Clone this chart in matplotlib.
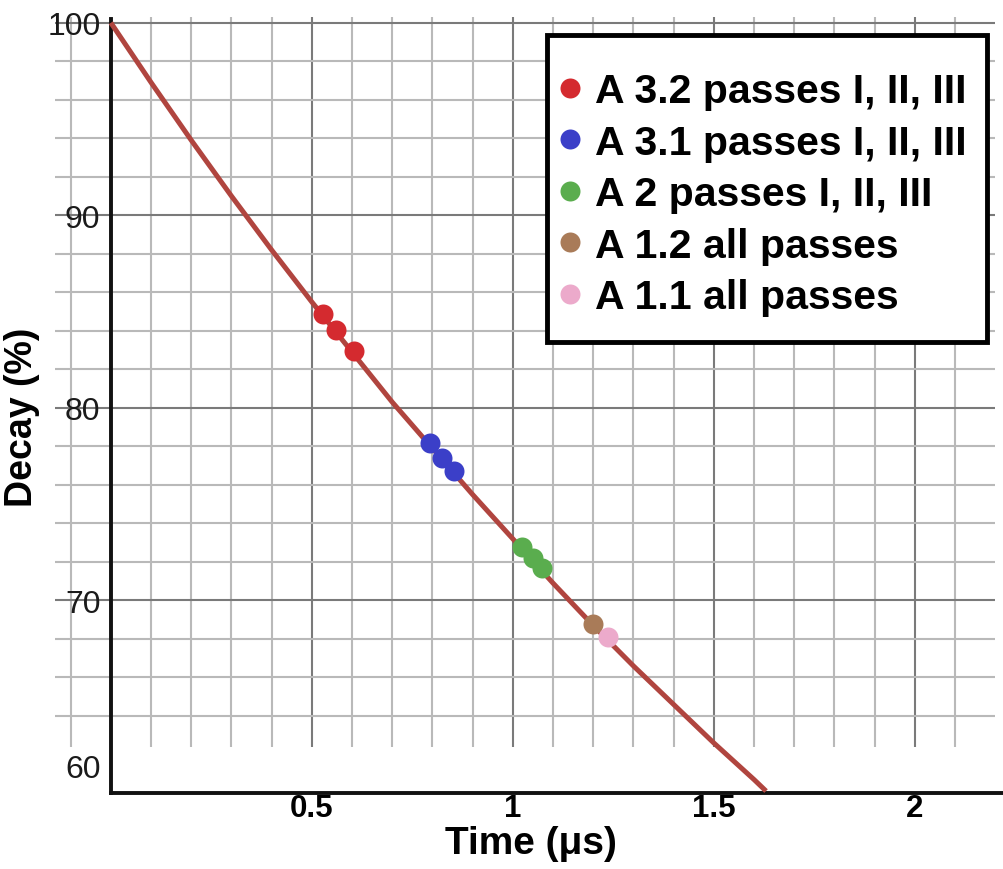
import matplotlib.pyplot as plt
import numpy as np
from matplotlib.patches import Rectangle
from matplotlib.transforms import ScaledTranslation

plt.rcParams["font.family"] = ["Liberation Sans", "DejaVu Sans"]

# decay curve
curve_t = [0.0, 0.1, 0.2, 0.3, 0.4, 0.5, 0.6, 0.7, 0.8, 0.9, 1.0,
           1.1, 1.2, 1.3, 1.4, 1.5, 1.6, 1.63]
curve_decay = [100.0, 96.9, 93.9, 91.0, 88.2, 85.5, 82.9, 80.3, 77.9, 75.5, 73.2,
               70.9, 68.7, 66.6, 64.6, 62.6, 60.7, 60.1]

# measured samples
labels = ["A 3.2 passes I, II, III", "A 3.1 passes I, II, III", "A 2 passes I, II, III",
          "A 1.2 all passes", "A 1.1 all passes"]
sample_t = [[0.527, 0.560, 0.604], [0.794, 0.824, 0.853], [1.023, 1.050, 1.073],
            [1.200], [1.237]]
sample_decay = [[84.88, 84.02, 82.98], [78.18, 77.40, 76.74], [72.76, 72.19, 71.67],
                [68.78], [68.09]]
colors = ["#d42a2f", "#3b3fc8", "#5aad4e", "#a97b58", "#ecaacb"]

xticks = [0.5, 1, 1.5, 2]
xticklabels = ["0.5", "1", "1.5", "2"]
yticks = [60, 70, 80, 90, 100]

fig = plt.figure(figsize=(10.04, 8.7), dpi=100)
ax = fig.add_axes([55 / 1004, 76 / 870, 949 / 1004, 776 / 870])
ax.set_xlim(-0.139, 2.222)
ax.set_ylim(60, 100.3)

# grid: light every 0.1 / 2 %, darker every 0.5 / 10 %
gx = np.round(np.arange(-0.1, 2.15, 0.1), 2)
gx = gx[gx != 0]
gy = np.arange(64, 101, 2)
for x in gx:
    major = abs(x * 2 - round(x * 2)) < 1e-6
    ax.vlines(x, 62.4, 100.3, colors="#7a7a7a" if major else "#b9b9b9",
              lw=1.5, zorder=1)
for y in gy:
    major = y % 10 == 0
    ax.hlines(y, -0.139, 2.2, colors="#7a7a7a" if major else "#b9b9b9",
              lw=1.5, zorder=1)

ax.plot(curve_t, curve_decay, color="#b0453f", lw=3.6, zorder=3,
        solid_capstyle="butt")

handles = []
for t, d, c in zip(sample_t, sample_decay, colors):
    h, = ax.plot(t, d, "o", color=c, ms=14.4, mew=0, zorder=4)
    handles.append(h)

for side in ["top", "right"]:
    ax.spines[side].set_visible(False)
ax.spines["left"].set_position(("data", 0))
ax.spines["left"].set_bounds(60, 100.2)
ax.spines["bottom"].set_bounds(0, 2.222)
for side in ["left", "bottom"]:
    ax.spines[side].set_linewidth(2.8)
    ax.spines[side].set_color("#111111")

ax.set_xticks(xticks, labels=xticklabels)
ax.set_yticks(yticks)
ax.tick_params(axis="x", length=0, pad=0, labelsize=22.5)
ax.tick_params(axis="y", length=0, pad=7.5, labelsize=23, labelcolor="#1a1a1a")
for lab in ax.get_xticklabels():
    lab.set_fontweight("bold")
lab60 = ax.yaxis.get_major_ticks()[0].label1
lab60.set_transform(lab60.get_transform()
                    + ScaledTranslation(0, 0.27, fig.dpi_scale_trans))

ax.set_xlabel("Time (μs)", fontsize=28, fontweight="bold")
ax.xaxis.set_label_coords(0.5016, -0.0412)
ax.set_ylabel("Decay (%)", fontsize=27, fontweight="bold")
ax.yaxis.set_label_coords(-0.016, 0.486)

box = Rectangle((547.5 / 1004, 1 - 342.5 / 870), 440 / 1004, 307 / 870,
                transform=fig.transFigure, facecolor="white", edgecolor="black",
                lw=3.5, zorder=4.5, clip_on=False)
ax.add_artist(box)
ax.legend(handles, labels, loc="upper left", bbox_to_anchor=(561.5 / 1004, 1 - 73 / 870),
          bbox_transform=fig.transFigure, frameon=False, borderpad=0,
          borderaxespad=0, handlelength=0.4, handletextpad=0.42, labelspacing=0.33,
          prop={"weight": "bold", "size": 29.5})

fig.savefig("out.png", dpi=100)
